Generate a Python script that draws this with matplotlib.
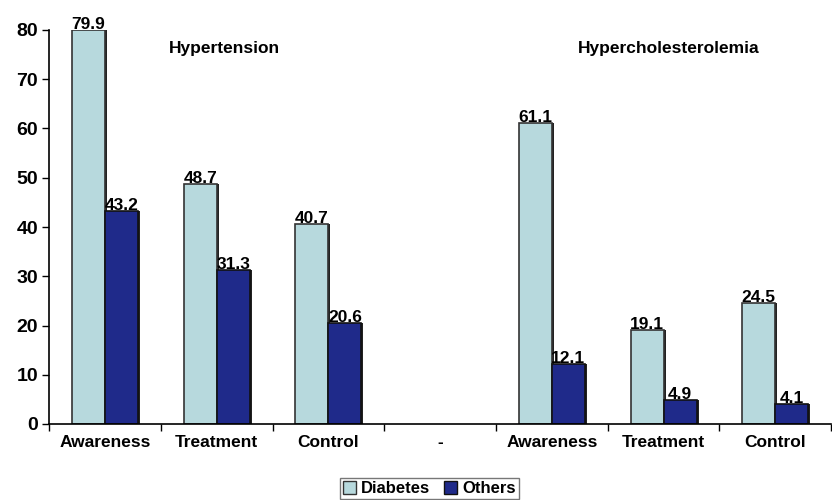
import numpy as np
import matplotlib
matplotlib.use('Agg')
import matplotlib.pyplot as plt
from matplotlib.patches import Patch

plt.rcParams['font.family'] = ['Liberation Sans', 'DejaVu Sans']

categories = ['Awareness', 'Treatment', 'Control', '-', 'Awareness', 'Treatment', 'Control']
diabetes = [79.9, 48.7, 40.7, np.nan, 61.1, 19.1, 24.5]
others = [43.2, 31.3, 20.6, np.nan, 12.1, 4.9, 4.1]

light = '#b7d9dd'
dark = '#1f2a8a'

fig = plt.figure(figsize=(8.32, 5), dpi=100)
ax = fig.add_axes([0.059, 0.152, 0.94, 0.788])

x = np.arange(len(categories))
w = 0.295

# little drop shadow on the right side of each bar
for vals, off in [(diabetes, -w / 2), (others, w / 2)]:
    ax.bar(x + off + 0.018, vals, w, bottom=0, color='#222222', edgecolor='none', zorder=1)

ax.bar(x - w / 2, diabetes, w, color=light, edgecolor='#333333', linewidth=1.2, zorder=2)
ax.bar(x + w / 2, others, w, color=dark, edgecolor='#111111', linewidth=1.2, zorder=2)

# value labels
for xi, d, o in zip(x, diabetes, others):
    if not np.isnan(d):
        ax.text(xi - w / 2, d - 0.4, f'{d}', ha='center', va='bottom',
                fontsize=12.5, fontweight='bold', zorder=3)
    if not np.isnan(o):
        ax.text(xi + w / 2, o - 0.4, f'{o}', ha='center', va='bottom',
                fontsize=12.5, fontweight='bold', zorder=3)

ax.set_xlim(-0.5, len(categories) - 0.5)
ax.set_ylim(0, 80)
ax.set_yticks(range(0, 81, 10))
ax.tick_params(axis='y', labelsize=14, length=5, width=1, direction='out', pad=3)
for lbl in ax.get_yticklabels():
    lbl.set_fontweight('bold')

ax.set_xticks(x)
ax.set_xticklabels(categories, fontsize=12.5, fontweight='bold')
ax.tick_params(axis='x', length=0, pad=8)
# tick marks at category boundaries
ax.set_xticks(np.arange(len(categories) + 1) - 0.5, minor=True)
ax.tick_params(axis='x', which='minor', length=5, width=1, direction='out')

for s in ['top', 'right']:
    ax.spines[s].set_visible(False)
ax.spines['left'].set_linewidth(1.2)
ax.spines['bottom'].set_linewidth(1.2)

ax.text(1.07, 76.3, 'Hypertension', ha='center', va='center', fontsize=12.5, fontweight='bold')
ax.text(5.05, 76.3, 'Hypercholesterolemia', ha='center', va='center', fontsize=12.5, fontweight='bold')

handles = [Patch(facecolor=light, edgecolor='#333333', label='Diabetes'),
           Patch(facecolor=dark, edgecolor='#111111', label='Others')]
fig.legend(handles=handles, loc='center', bbox_to_anchor=(0.516, 0.023), ncol=2,
           frameon=True, fancybox=False, edgecolor='#555555',
           prop={'weight': 'bold', 'size': 12}, handlelength=0.8, handleheight=0.8,
           handletextpad=0.3, columnspacing=0.8, borderpad=0.2)

fig.savefig('out.png', dpi=100)
